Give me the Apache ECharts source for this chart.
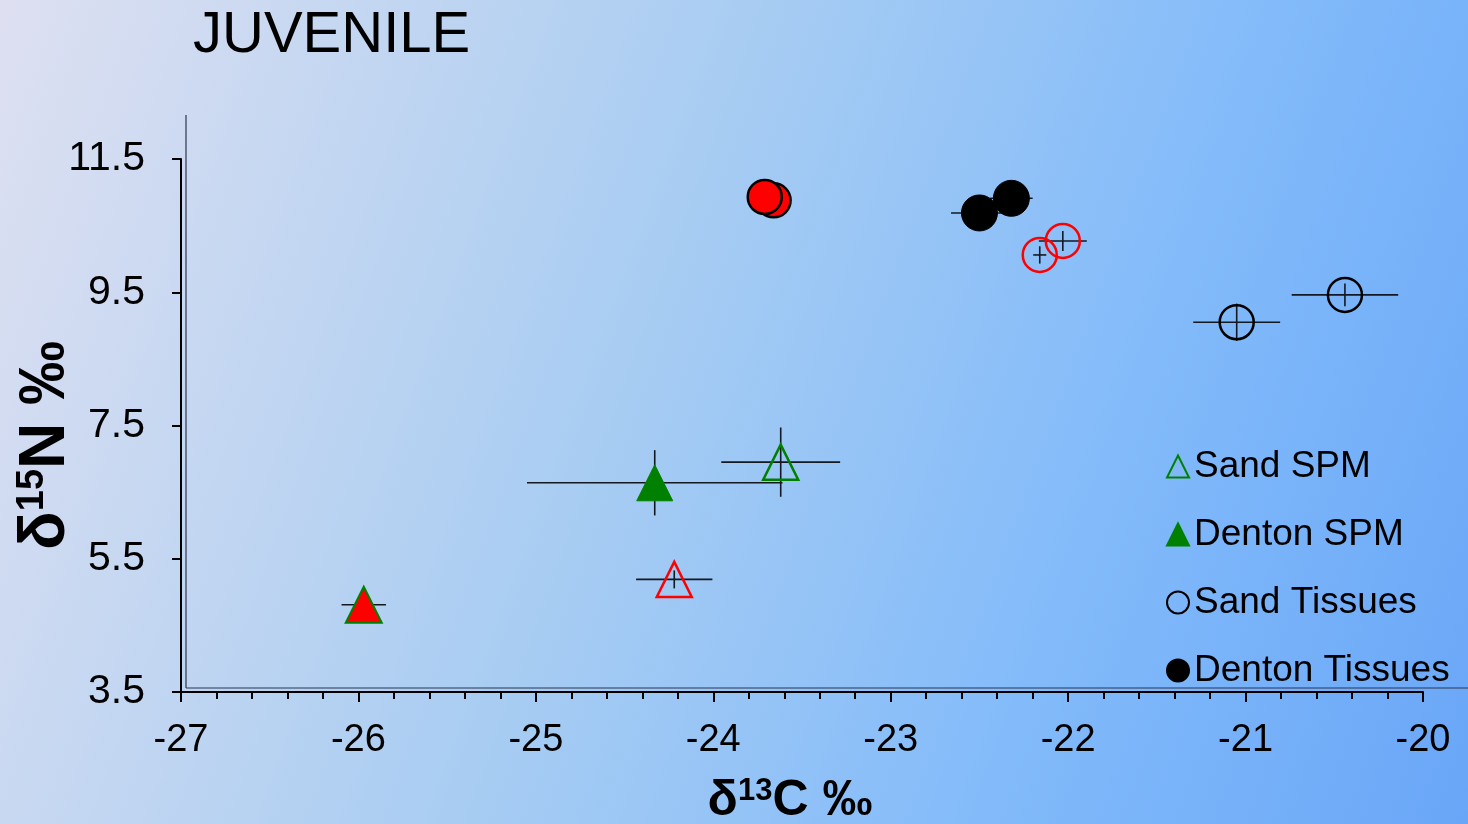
<!DOCTYPE html>
<html>
<head>
<meta charset="utf-8">
<title>JUVENILE</title>
<script src="https://cdn.jsdelivr.net/npm/echarts@6/dist/echarts.min.js"></script>
<style>
  html, body { margin: 0; padding: 0; }
  #chart {
    width: 1468px; height: 824px;
    background: linear-gradient(110deg, #dee0f1 0%, #a9cdf2 42%, #83bbfa 72%, #69a6f7 100%);
  }
</style>
</head>
<body>
<div id="chart"></div>
<script>
// Axis ticks
const xTickValues = [-27, -26, -25, -24, -23, -22, -21, -20];
const yTickValues = [3.5, 5.5, 7.5, 9.5, 11.5];

// Legend entries
const legendNames = ['Sand SPM', 'Denton SPM', 'Sand Tissues', 'Denton Tissues'];

// Means [δ13C, δ15N] and errors [±δ13C, ±δ15N]
const sandSpm = [[-23.62, 6.95]];
const sandSpmErr = [[0.335, 0.52]];
const dentonSpm = [[-24.33, 6.64]];
const dentonSpmErr = [[0.72, 0.49]];
const sandTissues = [[-21.05, 9.05], [-20.44, 9.46]];
const sandTissuesErr = [[0.245, 0.28], [0.30, 0.17]];
const dentonTissues = [[-22.50, 10.69], [-22.32, 10.91]];
const dentonTissuesErr = [[0.16, 0.10], [0.12, 0.10]];

// Second (red) set
const sandSpmRed = [[-24.22, 5.19]];
const sandSpmRedErr = [[0.215, 0.135]];
const dentonSpmRed = [[-25.97, 4.81]];
const dentonSpmRedErr = [[0.125, 0.10]];
const sandTissuesRed = [[-22.16, 10.06], [-22.03, 10.27]];
const sandTissuesRedErr = [[0.037, 0.13], [0.135, 0.15]];
const dentonTissuesRed = [[-23.66, 10.88], [-23.71, 10.93]];
const dentonTissuesRedErr = [[0.08, 0.10], [0.10, 0.10]];

const GREEN = '#008000', RED = '#ff0000', BLACK = '#000000', CLEAR = 'rgba(0,0,0,0)';
const FONT = '"Liberation Sans", Arial, sans-serif';

function withErr(points, errs) {
  return points.map((p, i) => [p[0], p[1], errs[i][0], errs[i][1]]);
}

const errorData = [].concat(
  withErr(sandSpm, sandSpmErr), withErr(dentonSpm, dentonSpmErr),
  withErr(sandTissues, sandTissuesErr), withErr(dentonTissues, dentonTissuesErr),
  withErr(sandSpmRed, sandSpmRedErr), withErr(dentonSpmRed, dentonSpmRedErr),
  withErr(sandTissuesRed, sandTissuesRedErr), withErr(dentonTissuesRed, dentonTissuesRedErr)
);

function scatter(name, data, symbol, size, fill, stroke, width) {
  return {
    name, type: 'scatter', data, symbol, symbolSize: size, z: 3,
    itemStyle: { color: fill, borderColor: stroke, borderWidth: width, opacity: 1 },
    emphasis: { disabled: true }
  };
}

const chart = echarts.init(document.getElementById('chart'), null, { renderer: 'canvas' });

chart.setOption({
  backgroundColor: 'transparent',
  animation: false,
  title: {
    text: 'JUVENILE', left: 188, top: 2,
    textStyle: { fontFamily: FONT, fontSize: 58, fontWeight: 'normal', color: '#000' }
  },
  legend: {
    data: legendNames,
    orient: 'vertical', left: 1166, top: 448, padding: 0,
    itemWidth: 22, itemHeight: 22, itemGap: 31,
    selectedMode: false,
    textStyle: { fontFamily: FONT, fontSize: 37, color: '#000', lineHeight: 37 }
  },
  grid: { left: 181, right: 45, top: 159, bottom: 132, containLabel: false, outerBoundsMode: 'none' },
  xAxis: {
    type: 'value',
    min: xTickValues[0], max: xTickValues[xTickValues.length - 1], interval: 1,
    name: '{d|δ}{s|13}{d|C ‰}',
    nameLocation: 'middle', nameGap: 84, nameMoveOverlap: false,
    nameTextStyle: {
      padding: [0, 24, 0, 0],
      rich: {
        d: { fontFamily: FONT, fontSize: 50, fontWeight: 'bold', color: '#000', lineHeight: 50 },
        s: { fontFamily: FONT, fontSize: 31, fontWeight: 'bold', color: '#000', lineHeight: 31, verticalAlign: 'top' }
      }
    },
    axisLine: { show: true, onZero: false, lineStyle: { color: '#000', width: 2 } },
    axisTick: { show: true, length: 10, lineStyle: { color: '#000', width: 2 } },
    minorTick: { show: true, splitNumber: 5, length: 7, lineStyle: { color: '#000', width: 2 } },
    splitLine: { show: false },
    axisLabel: { fontFamily: FONT, fontSize: 38, color: '#000', margin: 30 }
  },
  yAxis: {
    type: 'value',
    min: yTickValues[0], max: yTickValues[yTickValues.length - 1], interval: 2,
    name: '{d|δ}{s|15}{d|N ‰}',
    nameLocation: 'middle', nameGap: 103, nameMoveOverlap: false,
    nameTextStyle: {
      padding: [0, 40, 0, 0],
      rich: {
        d: { fontFamily: FONT, fontSize: 64, fontWeight: 'bold', color: '#000', lineHeight: 64 },
        s: { fontFamily: FONT, fontSize: 38, fontWeight: 'bold', color: '#000', lineHeight: 38, verticalAlign: 'top' }
      }
    },
    axisLine: { show: true, onZero: false, lineStyle: { color: '#000', width: 2 } },
    axisTick: { show: true, length: 9, lineStyle: { color: '#000', width: 2 } },
    splitLine: { show: false },
    axisLabel: { fontFamily: FONT, fontSize: 41, color: '#000', margin: 36 }
  },
  graphic: [
    // thin plot frame inside the axes
    { type: 'line', shape: { x1: 186, y1: 115, x2: 186, y2: 688 }, style: { stroke: '#2b3650', lineWidth: 1.2 }, z: 1 },
    { type: 'line', shape: { x1: 186, y1: 688, x2: 1468, y2: 688 }, style: { stroke: '#2b3650', lineWidth: 1.2 }, z: 1 }
  ],
  series: [
    {
      name: 'error bars', type: 'custom', z: 2, silent: true,
      data: errorData,
      encode: { x: 0, y: 1 },
      renderItem: function (params, api) {
        const x = api.value(0), y = api.value(1), ex = api.value(2), ey = api.value(3);
        const l = api.coord([x - ex, y]), r = api.coord([x + ex, y]);
        const t = api.coord([x, y + ey]), b = api.coord([x, y - ey]);
        const style = { stroke: '#141820', lineWidth: 1.6 };
        return {
          type: 'group',
          children: [
            { type: 'line', shape: { x1: l[0], y1: l[1], x2: r[0], y2: r[1] }, style },
            { type: 'line', shape: { x1: t[0], y1: t[1], x2: b[0], y2: b[1] }, style }
          ]
        };
      }
    },
    scatter('Sand SPM', sandSpm, 'triangle', 35, CLEAR, GREEN, 2.5),
    scatter('Denton SPM', dentonSpm, 'triangle', 36, GREEN, GREEN, 1),
    scatter('Sand Tissues', sandTissues, 'circle', 34, CLEAR, BLACK, 2.5),
    scatter('Denton Tissues', dentonTissues, 'circle', 36, BLACK, BLACK, 1),
    scatter('Sand SPM (red)', sandSpmRed, 'triangle', 35, CLEAR, RED, 2.5),
    scatter('Denton SPM (red)', dentonSpmRed, 'triangle', 36, RED, GREEN, 2),
    scatter('Sand Tissues (red)', sandTissuesRed, 'circle', 34, CLEAR, RED, 2.5),
    scatter('Denton Tissues (red)', dentonTissuesRed, 'circle', 34, RED, BLACK, 2.5)
  ]
});
</script>
</body>
</html>
